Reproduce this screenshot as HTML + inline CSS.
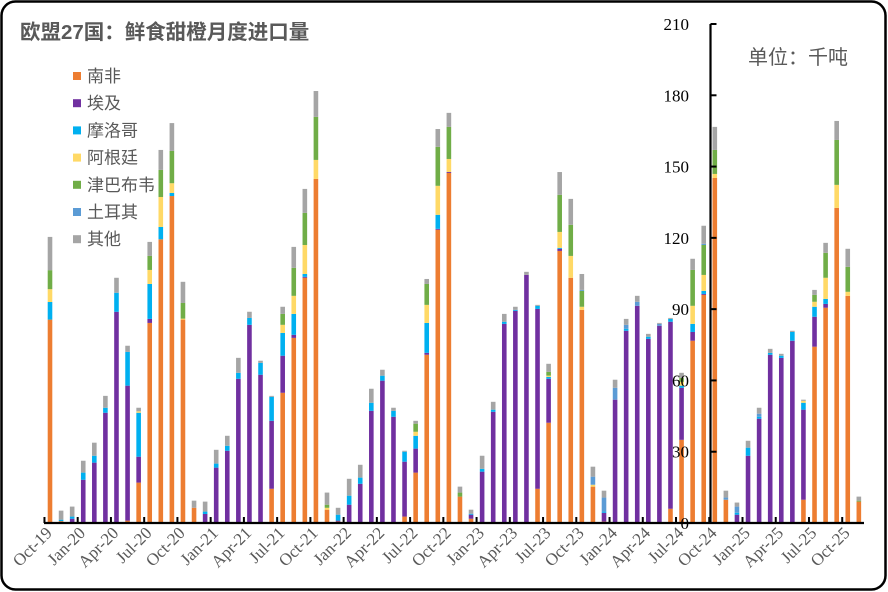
<!DOCTYPE html>
<html><head><meta charset="utf-8"><style>
html,body{margin:0;padding:0;background:#fff;}
#wrap{position:relative;width:888px;height:592px;overflow:hidden;}
svg{position:absolute;left:0;top:0;}
</style></head><body>
<div id="wrap">
<svg id="chart" width="888" height="592" xmlns="http://www.w3.org/2000/svg">
<rect x="1.5" y="1.5" width="884" height="588" rx="14" ry="14" fill="#fff" stroke="#000" stroke-width="2.5"/>
<text x="20" y="39" font-family="'Liberation Sans','Noto Sans CJK SC',sans-serif" font-size="20.5" font-weight="bold" fill="#595959">欧盟27国：鲜食甜橙月度进口量</text>
<text x="748" y="64" font-family="'Liberation Sans','Noto Sans CJK SC',sans-serif" font-size="20" fill="#595959">单位：千吨</text>
<g id="bars"></g>
<g id="axes"></g>
<g id="legend"></g>
</svg>
</div>
<script>
const months = ["Oct-19","Nov-19","Dec-19","Jan-20","Feb-20","Mar-20","Apr-20","May-20","Jun-20","Jul-20","Aug-20","Sep-20","Oct-20","Nov-20","Dec-20","Jan-21","Feb-21","Mar-21","Apr-21","May-21","Jun-21","Jul-21","Aug-21","Sep-21","Oct-21","Nov-21","Dec-21","Jan-22","Feb-22","Mar-22","Apr-22","May-22","Jun-22","Jul-22","Aug-22","Sep-22","Oct-22","Nov-22","Dec-22","Jan-23","Feb-23","Mar-23","Apr-23","May-23","Jun-23","Jul-23","Aug-23","Sep-23","Oct-23","Nov-23","Dec-23","Jan-24","Feb-24","Mar-24","Apr-24","May-24","Jun-24","Jul-24","Aug-24","Sep-24","Oct-24","Nov-24","Dec-24","Jan-25","Feb-25","Mar-25","Apr-25","May-25","Jun-25","Jul-25","Aug-25","Sep-25","Oct-25","Nov-25"];
const seriesNames = ["南非","埃及","摩洛哥","阿根廷","津巴布韦","土耳其","其他"];
const seriesColors = ["#ED7D31","#7030A0","#00B0F0","#FFD966","#70AD47","#5B9BD5","#A5A5A5"];
const southAfrica = [85.6,0.8,0,0,0,0,0,1,17,84.2,119.4,137.6,85.6,6.4,0,0,0,0,0,0,14.4,54.8,77.9,103.2,144.8,5.6,0.6,0,0,0,0,0,2.7,21.2,70.8,123.4,147.3,11.1,1.8,0,0,0,0,0,14.4,42.2,114.5,103.2,89.7,15.3,0.6,0,0,0,0,0,6,35,76.7,96,145.2,9.8,0,0,0,0,0,0,9.8,74.2,90.6,132.6,95.6,9];
const egypt = [0,0,1.8,18.2,25.4,46.4,88.9,56.8,10.9,1.7,0,0,0,0,3.8,23.3,30.4,60.7,83.4,62.4,28.6,15.6,1.3,0.4,0,0,0.4,7.7,16.5,47.2,59.9,44.7,23.1,10.1,0.8,0.4,0.4,0,1.7,21.6,46.8,83.8,89.3,104.4,75.7,18.5,0.9,0,0,0,3.7,51.9,80.9,91.4,77.5,83,78.7,21.9,3.7,0.4,0,0,3.5,28.3,43.9,70.8,69.5,76.7,37.9,12.6,1.6,0,0,0];
const morocco = [7.4,0.6,0.9,3,2.9,2.1,8,14.2,18.5,14.7,5.2,1.3,0,0,1,1.7,2.1,2.5,2.9,5,10.1,9.6,8.8,1.2,0,0,2.5,3.8,2.6,3.4,2.1,2.5,4.2,5.4,12.6,5.9,0,0,0.4,1.2,0.9,0.9,0.4,0,1.3,0.8,0.4,0,0,0,0.5,0,0.8,0,0.9,0,1.2,0.9,3.4,1.3,0,0,0.8,3.4,0.8,0.8,0.9,3.7,2.9,4.2,2.1,0,0,0];
const argentina = [5.4,0,0,0,0,0,0,0,0.6,5.9,12.6,4.1,0.4,0,0,0,0,0,0,0,0,3.4,7.6,12.2,8,0.8,0,0,0,0,0,0,0,1.7,7.6,12.2,5.5,0,0,0,0,0,0,0,0,0.5,6.7,9.2,1.3,0.8,0,0,0,0,0,0,0,1.6,7.6,6.7,1.7,0,0,0,0,0,0,0,0.8,2.1,8.9,9.7,1.7,0];
const zimbabwe = [8,0,0,0,0,0,0,0,0,5.9,11.4,13.6,6.6,0,0,0,0,0,0,0,0,4.6,11.8,13.5,18.1,1.3,0,0,0,0,0,0,0,3.4,8.8,16.4,13.5,1.7,0,0,0,0,0,0,0,1.6,15.6,13.1,6.7,0,0,0,0,0,0,0,0,1.7,15.1,12.6,10.1,0,0,0,0,0,0,0,0,2.9,10.5,18.9,10.5,0.4];
const turkey = [0,0,0,0,0,0,0,0,0,0,0,0,0,0,0,0,0,0,0,0,0,0,0,0,0,0,0,0,0,0,0,0,0,0,0,0,0,0,0,0,0,0,0,0,0,0,0,0,0.4,3.4,5.9,5,1.7,1.7,0,0.8,0,0,0,0.5,0,0.9,2.6,0,1.3,0,0,0,0,0,0,0,0,0];
const others = [14,3.8,4.2,5,5.5,5,6.3,2.6,1.5,5.9,8.4,11.7,8.9,3,4.2,5.8,4.2,6.3,2.6,0.9,0.4,3,8.8,10.1,10.9,5.1,2.9,7.1,5.4,5.9,2.5,1.3,0.4,1.2,2.1,7.5,5.9,2.5,1.7,5.5,3.3,3.3,1.3,1.3,0.4,3.4,9.6,10.9,6.7,4.2,2.9,3.4,2.5,2.5,1.2,0.4,0.4,2.1,4.7,7.6,9.7,2.9,1.7,2.9,2.5,1.7,0.8,0.5,0.5,2.1,4.2,8,7.6,1.7];
const yTicks = [0,30,60,90,120,150,180,210];

const NS = "http://www.w3.org/2000/svg";
const x0 = 50, step = 11.08, barW = 4.6;
const yBase = 523, yTop = 24, yMax = 210;
function xScale(i){ return x0 + i*step; }
function yScale(v){ return yBase - v*(yBase-yTop)/yMax; }
function mk(tag, attrs, parent){ const e=document.createElementNS(NS,tag); for(const k in attrs) e.setAttribute(k,attrs[k]); parent.appendChild(e); return e; }

const series = [southAfrica, egypt, morocco, argentina, zimbabwe, turkey, others];
const barsG = document.getElementById('bars');
months.forEach((m,i)=>{
  let cum = 0;
  series.forEach((s,si)=>{
    const v = s[i];
    if(!v) return;
    const y1 = yScale(cum+v), y2 = yScale(cum);
    const r = mk('rect',{x:(xScale(i)-barW/2).toFixed(2),y:y1.toFixed(2),width:barW,height:(y2-y1).toFixed(2),fill:seriesColors[si]},barsG);
    
    
    cum += v;
  });
});

const axG = document.getElementById('axes');
const yAxisX = 710.5;
const xa = mk('line',{x1:44,y1:yBase,x2:864,y2:yBase,stroke:'#000','stroke-width':2.2},axG);


const ya = mk('line',{x1:yAxisX,y1:yTop,x2:yAxisX,y2:yBase,stroke:'#000','stroke-width':2.2},axG);


yTicks.forEach(t=>{
  const y = yScale(t);
  const tk = mk('line',{x1:yAxisX,y1:y,x2:yAxisX+6,y2:y,stroke:'#000','stroke-width':2},axG);
  
  
  const lb = mk('text',{x:689,y:y+6,'text-anchor':'end','font-family':"'Liberation Serif',serif",'font-size':17,fill:'#000'},axG);
  lb.textContent = t;
  
  
});
months.forEach((m,i)=>{
  if(i%3!==0) return;
  const bx = xScale(i) - step/2;
  const tk = mk('line',{x1:bx,y1:yBase,x2:bx,y2:yBase-6,stroke:'#000','stroke-width':2},axG);
  
  
  const tx = xScale(i)+3, ty = 534;
  const lb = mk('text',{x:tx,y:ty,'text-anchor':'end','font-family':"'Liberation Serif',serif",'font-size':17,fill:'#595959',transform:`rotate(-45 ${tx} ${ty})`},axG);
  lb.textContent = m;
  
  
});

const lgG = document.getElementById('legend');
seriesNames.forEach((n,i)=>{
  const y = 76 + i*27.2;
  const sq = mk('rect',{x:73,y:y-4,width:8,height:8,fill:seriesColors[i]},lgG);
  
  
  const t = mk('text',{x:87,y:y+6,'font-family':"'Liberation Sans','Noto Sans CJK SC',sans-serif",'font-size':17,fill:'#595959'},lgG);
  t.textContent = n;
  
  
});
</script>
</body></html>
